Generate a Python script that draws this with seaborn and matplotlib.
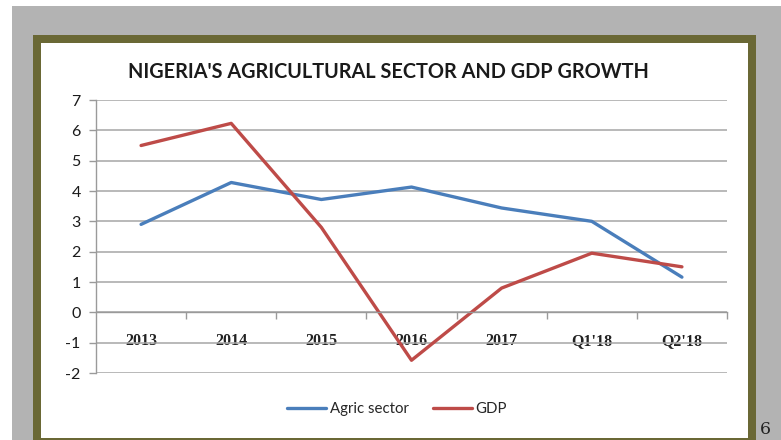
import matplotlib
matplotlib.use("Agg")
import matplotlib.pyplot as plt
from matplotlib.patches import Rectangle
from matplotlib.ticker import FixedLocator, NullFormatter
from matplotlib.lines import Line2D
import seaborn as sns
import pandas as pd
import numpy as np

categories = ["2013", "2014", "2015", "2016", "2017", "Q1'18", "Q2'18"]
agric = [2.9, 4.28, 3.72, 4.13, 3.44, 3.0, 1.16]
gdp = [5.5, 6.23, 2.8, -1.58, 0.8, 1.95, 1.5]
yticks = [-2, -1, 0, 1, 2, 3, 4, 5, 6, 7]
title = "NIGERIA'S AGRICULTURAL SECTOR AND GDP GROWTH"

sns.set_theme(style="white")
plt.rcParams["font.family"] = ["Lato", "DejaVu Sans"]

W, H = 781, 440
fig = plt.figure(figsize=(W / 100, H / 100), dpi=100, facecolor="white")

def prect(x0, y0, x1, y1, color, z):
    fig.patches.append(Rectangle((x0 / W, 1 - y1 / H), (x1 - x0) / W, (y1 - y0) / H,
                                 transform=fig.transFigure, facecolor=color,
                                 edgecolor="none", zorder=z))

prect(12, 6, W, H, "#b3b3b3", 0)
prect(33, 35, 756, H + 2, "#6a6835", 1)
prect(41, 43, 748, 438, "white", 2)

left, right, top, bottom = 96, 727, 100, 373
ax = fig.add_axes([left / W, 1 - bottom / H, (right - left) / W, (bottom - top) / H])
ax.set_facecolor("none")
ax.set_zorder(5)

df = pd.DataFrame({
    "x": list(range(len(categories))) * 2,
    "value": agric + gdp,
    "series": ["Agric sector"] * len(categories) + ["GDP"] * len(categories),
})
sns.lineplot(data=df, x="x", y="value", hue="series",
             palette={"Agric sector": "#4a7ebb", "GDP": "#be4b48"},
             linewidth=2.4, ax=ax, legend=False, sort=False)

ax.set_xlim(-0.5, len(categories) - 0.5)
ax.set_ylim(-2, 7)
ax.set_yticks(yticks)
ax.set_yticklabels([str(v) for v in yticks])
ax.grid(axis="y", color="#a6a6a6", linewidth=1.1)
ax.grid(axis="x", visible=False)
ax.set_axisbelow(True)

for s in ["top", "right"]:
    ax.spines[s].set_visible(False)
ax.spines["left"].set_color("#9a9a9a")
ax.spines["left"].set_linewidth(1.0)
ax.spines["bottom"].set_position(("data", 0))
ax.spines["bottom"].set_color("#9a9a9a")
ax.spines["bottom"].set_linewidth(1.0)

ax.tick_params(axis="y", direction="out", length=5, width=1, color="#9a9a9a",
               labelsize=11.5, pad=6, labelcolor="#1a1a1a", left=True)
ax.set_xticks(range(len(categories)))
ax.set_xticklabels(categories, fontfamily=["Liberation Serif"], fontweight="bold",
                   fontsize=11.5, color="#222222")
ax.tick_params(axis="x", which="major", length=0, pad=15, bottom=True)
ax.xaxis.set_minor_locator(FixedLocator(np.arange(0.5, len(categories), 1.0)))
ax.xaxis.set_minor_formatter(NullFormatter())
ax.tick_params(axis="x", which="minor", direction="out", length=5, width=1,
               color="#9a9a9a", bottom=True)
ax.set_xlabel("")
ax.set_ylabel("")

fig.text(388 / W, 1 - 72 / H, title, ha="center", va="center",
         fontsize=14.3, fontweight="bold", color="#1a1a1a", zorder=6)

handles = [Line2D([], [], color="#4a7ebb", lw=2.4), Line2D([], [], color="#be4b48", lw=2.4)]
leg = fig.legend(handles, ["Agric sector", "GDP"], loc="center",
                 bbox_to_anchor=(397 / W, 1 - 409 / H), ncol=2, frameon=False,
                 fontsize=10.8, handlelength=2.6, handletextpad=0.25, columnspacing=1.6)
leg.set_zorder(6)

fig.text(760 / W, 1 - 421 / H, "6", ha="left", va="top", fontsize=12.5,
         fontfamily=["DejaVu Serif"], color="#222222", zorder=6)

fig.savefig("out.png", dpi=100, facecolor="white")
